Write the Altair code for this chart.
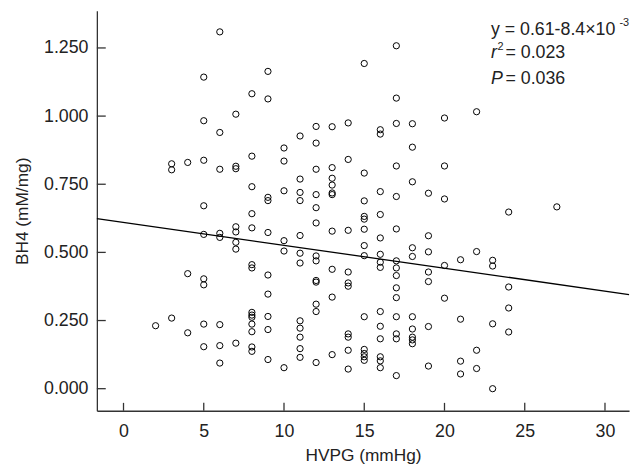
import altair as alt
import pandas as pd

# HVPG (mmHg) and BH4 (mM/mg)
hvpg = [2,
        3, 3, 3,
        4, 4, 4,
        5, 5, 5, 5, 5, 5, 5, 5, 5,
        6, 6, 6, 6, 6, 6, 6, 6,
        7, 7, 7, 7, 7, 7, 7, 7,
        8, 8, 8, 8, 8, 8, 8, 8, 8, 8, 8, 8, 8, 8,
        9, 9, 9, 9, 9, 9, 9, 9, 9, 9,
        10, 10, 10, 10, 10, 10,
        11, 11, 11, 11, 11, 11, 11, 11, 11, 11, 11, 11,
        12, 12, 12, 12, 12, 12, 12, 12, 12, 12, 12, 12, 12,
        13, 13, 13, 13, 13, 13, 13, 13, 13, 13,
        14, 14, 14, 14, 14, 14, 14, 14, 14, 14,
        15, 15, 15, 15, 15, 15, 15, 15, 15, 15, 15, 15, 15,
        16, 16, 16, 16, 16, 16, 16, 16, 16, 16, 16, 16, 16, 16,
        17, 17, 17, 17, 17, 17, 17, 17, 17, 17, 17, 17, 17, 17, 17,
        18, 18, 18, 18, 18, 18, 18, 18, 18, 18,
        19, 19, 19, 19, 19, 19, 19,
        20, 20, 20, 20, 20,
        21, 21, 21, 21,
        22, 22, 22, 22,
        23, 23, 23, 23,
        24, 24, 24, 24,
        27]

bh4 = [0.231,
       0.825, 0.803, 0.259,
       0.830, 0.422, 0.205,
       1.143, 0.983, 0.838, 0.671, 0.566, 0.403, 0.381, 0.237, 0.154,
       1.309, 0.940, 0.805, 0.570, 0.555, 0.235, 0.158, 0.094,
       1.007, 0.816, 0.807, 0.594, 0.575, 0.537, 0.512, 0.167,
       1.082, 0.853, 0.741, 0.642, 0.590, 0.455, 0.443, 0.280, 0.270, 0.262, 0.237, 0.209, 0.153, 0.137,
       1.164, 1.063, 0.702, 0.690, 0.573, 0.417, 0.347, 0.265, 0.217, 0.107,
       0.883, 0.835, 0.726, 0.543, 0.505, 0.077,
       0.927, 0.769, 0.720, 0.690, 0.562, 0.497, 0.461, 0.249, 0.222, 0.189, 0.147, 0.115,
       0.962, 0.901, 0.805, 0.712, 0.664, 0.608, 0.487, 0.469, 0.397, 0.391, 0.310, 0.283, 0.096,
       0.961, 0.811, 0.772, 0.747, 0.718, 0.712, 0.578, 0.438, 0.336, 0.125,
       0.975, 0.841, 0.581, 0.428, 0.388, 0.376, 0.201, 0.189, 0.141, 0.072,
       1.193, 0.791, 0.689, 0.632, 0.622, 0.585, 0.525, 0.488, 0.264, 0.144, 0.129, 0.117, 0.104,
       0.950, 0.934, 0.723, 0.639, 0.553, 0.493, 0.464, 0.445, 0.283, 0.229, 0.183, 0.117, 0.102, 0.077,
       1.258, 1.066, 0.973, 0.817, 0.705, 0.586, 0.469, 0.443, 0.415, 0.370, 0.334, 0.264, 0.201, 0.183, 0.048,
       0.972, 0.886, 0.759, 0.517, 0.485, 0.264, 0.219, 0.189, 0.179, 0.165,
       0.717, 0.561, 0.502, 0.428, 0.393, 0.228, 0.083,
       0.993, 0.817, 0.696, 0.452, 0.332,
       0.473, 0.255, 0.101, 0.054,
       1.016, 0.503, 0.141, 0.074,
       0.471, 0.450, 0.238, 0.000,
       0.648, 0.373, 0.296, 0.208,
       0.667]

x_ticks = [0, 5, 10, 15, 20, 25, 30]
y_ticks = [0.0, 0.25, 0.5, 0.75, 1.0, 1.25]
x_domain = [-1.66, 31.5]
y_domain = [-0.081, 1.386]

intercept = 0.61
slope = -0.0084

FONT = "Liberation Sans, Arial, sans-serif"
INK = "#222222"
AXIS = "#333333"

df = pd.DataFrame({"hvpg": hvpg, "bh4": bh4})
fit = pd.DataFrame({"hvpg": x_domain,
                    "bh4": [intercept + slope * v for v in x_domain]})

xs = alt.Scale(domain=x_domain, nice=False, zero=False)
ys = alt.Scale(domain=y_domain, nice=False, zero=False)
x_axis = alt.Axis(values=x_ticks, labelPadding=12, titlePadding=6)
y_axis = alt.Axis(values=y_ticks, format=".3f", labelPadding=9, titlePadding=12)
X_TITLE = "HVPG (mmHg)"
Y_TITLE = "BH4 (mM/mg)"


def xenc(field):
    return alt.X(field, scale=xs, axis=x_axis, title=X_TITLE)


def yenc(field):
    return alt.Y(field, scale=ys, axis=y_axis, title=Y_TITLE)


points = alt.Chart(df).mark_point(
    shape="circle", filled=False, color="black", size=40, strokeWidth=1, opacity=1
).encode(x=xenc("hvpg:Q"), y=yenc("bh4:Q"))

line = alt.Chart(fit).mark_line(color="black", strokeWidth=1.3).encode(
    x=xenc("hvpg:Q"), y=yenc("bh4:Q"))

xtick_rules = alt.Chart(pd.DataFrame({"t": x_ticks})).mark_rule(
    color=AXIS, strokeWidth=1.3
).encode(x=xenc("t:Q"), y=alt.value(397), y2=alt.value(405))

ytick_rules = alt.Chart(pd.DataFrame({"t": y_ticks})).mark_rule(
    color=AXIS, strokeWidth=1.3
).encode(y=yenc("t:Q"), x=alt.value(0), x2=alt.value(9))


def label(text, x, y, size=18, italic=False):
    return alt.Chart(pd.DataFrame({"x": [x], "y": [y], "t": [text]})).mark_text(
        align="left", baseline="middle", font=FONT, fontSize=size,
        fontStyle="italic" if italic else "normal", color=INK,
    ).encode(x=xenc("x:Q"), y=yenc("y:Q"), text="t:N")


annot = [
    label("y = 0.61-8.4×10", 22.89, 1.315),
    label("-3", 30.9, 1.342, size=11),
    label("r", 22.89, 1.230, italic=True),
    label("2", 23.3, 1.254, size=11),
    label("= 0.023", 23.8, 1.230),
    label("P", 22.89, 1.136, italic=True),
    label("= 0.036", 23.8, 1.136),
]

chart = alt.layer(points, line, xtick_rules, ytick_rules, *annot).properties(
    width=539, height=405,
    autosize=alt.AutoSizeParams(type="none"),
    padding={"left": 90, "top": 0, "right": 5, "bottom": 51},
    background="white",
).configure_view(stroke=None).configure_axis(
    grid=False, ticks=False, domainColor=AXIS, domainWidth=1.3,
    labelFont=FONT, labelFontSize=18, labelColor=INK,
    titleFont=FONT, titleFontSize=17.5, titleFontWeight="normal", titleColor=INK,
)

chart.save("out.html", embed_options={"renderer": "svg", "actions": False})
